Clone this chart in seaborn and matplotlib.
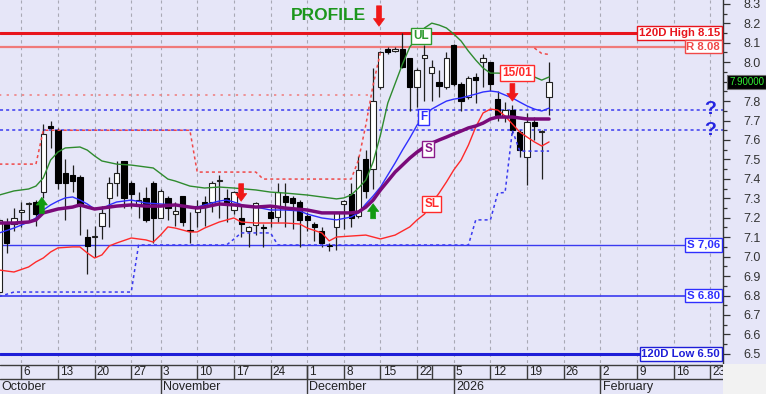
import numpy as np
import pandas as pd
import matplotlib
matplotlib.use("Agg")
import matplotlib.pyplot as plt
import matplotlib.transforms as mtransforms
from matplotlib.patches import Rectangle
from matplotlib.ticker import MultipleLocator, FuncFormatter
import seaborn as sns

BG = "#E6E6F8"
sns.set_style("white", {"axes.facecolor": BG, "figure.facecolor": BG})
plt.rcParams["font.family"] = ["Liberation Sans", "DejaVu Sans"]

# ---------------- trading calendar ----------------
holidays = ["2025-10-31", "2025-12-24", "2025-12-25", "2025-12-26", "2025-12-31", "2026-01-01"]
cal = pd.bdate_range("2025-10-01", "2026-02-27")
cal = cal[~cal.isin(pd.to_datetime(holidays))]


def pos(d):
    return cal.get_loc(pd.Timestamp(d))


# ---------------- candles (daily OHLC from 2025-10-01) ----------------
opens = [6.82, 7.17, 7.17, 7.23, 7.27, 7.28, 7.33, 7.67, 7.65, 7.43,
         7.42, 7.41, 7.10, 7.10, 7.16, 7.30, 7.38, 7.49, 7.38, 7.27,
         7.30, 7.38, 7.20, 7.30, 7.22, 7.31, 7.135, 7.23, 7.28, 7.28,
         7.39, 7.30, 7.24, 7.20, 7.13, 7.165, 7.155, 7.23, 7.205, 7.31,
         7.30, 7.28, 7.21, 7.17, 7.13, 7.06, 7.15, 7.27, 7.32, 7.21,
         7.50, 7.45, 7.87, 8.07, 8.06, 8.07, 8.02, 7.87, 8.02, 7.945,
         7.90, 7.875, 8.09, 7.89, 7.82, 7.925, 8.00, 8.00, 7.81, 7.72,
         7.755, 7.64, 7.51, 7.69, 7.64, 7.82]
highs = [7.20, 7.20, 7.25, 7.28, 7.28, 7.29, 7.68, 7.70, 7.66, 7.50,
         7.47, 7.42, 7.14, 7.16, 7.26, 7.41, 7.49, 7.49, 7.39, 7.33,
         7.36, 7.39, 7.35, 7.31, 7.28, 7.31, 7.23, 7.29, 7.31, 7.39,
         7.42, 7.35, 7.34, 7.26, 7.16, 7.28, 7.17, 7.255, 7.38, 7.38,
         7.31, 7.29, 7.23, 7.18, 7.15, 7.07, 7.23, 7.29, 7.38, 7.52,
         7.55, 7.97, 8.06, 8.08, 8.08, 8.15, 8.02, 7.97, 8.09, 8.01,
         7.96, 8.05, 8.095, 7.90, 7.93, 7.945, 8.04, 8.00, 7.85, 7.795,
         7.78, 7.65, 7.74, 7.72, 7.65, 8.00]
lows = [6.80, 7.02, 7.13, 7.15, 7.18, 7.16, 7.30, 7.56, 7.35, 7.19,
        7.33, 7.11, 6.91, 7.00, 7.09, 7.15, 7.31, 7.25, 7.25, 7.20,
        7.18, 7.07, 7.20, 7.19, 7.16, 7.16, 7.07, 7.15, 7.16, 7.23,
        7.20, 7.18, 7.22, 7.10, 7.05, 7.11, 7.05, 7.15, 7.18, 7.15,
        7.14, 7.05, 7.13, 7.08, 7.05, 7.03, 7.035, 7.14, 7.15, 7.20,
        7.30, 7.35, 7.86, 8.04, 8.05, 7.97, 7.75, 7.77, 7.80, 7.80,
        7.82, 7.86, 7.88, 7.75, 7.81, 7.79, 7.87, 7.85, 7.70, 7.69,
        7.63, 7.51, 7.37, 7.60, 7.40, 7.73]
closes = [7.19, 7.07, 7.20, 7.24, 7.275, 7.22, 7.63, 7.66, 7.38, 7.38,
          7.39, 7.26, 7.055, 7.102, 7.225, 7.38, 7.43, 7.30, 7.32, 7.29,
          7.19, 7.20, 7.34, 7.25, 7.235, 7.18, 7.13, 7.26, 7.255, 7.38,
          7.395, 7.275, 7.33, 7.17, 7.15, 7.275, 7.145, 7.20, 7.33, 7.28,
          7.275, 7.19, 7.19, 7.15, 7.07, 7.055, 7.225, 7.285, 7.20, 7.445,
          7.34, 7.80, 8.05, 8.05, 8.07, 7.975, 7.87, 7.96, 8.035, 7.975,
          7.88, 8.02, 7.89, 7.80, 7.92, 7.91, 8.02, 7.89, 7.73, 7.755,
          7.65, 7.55, 7.69, 7.67, 7.645, 7.90]

# ---------------- indicator lines ----------------
ul_dates = ["2025-10-01", "2025-10-03", "2025-10-07", "2025-10-08", "2025-10-09", "2025-10-10", "2025-10-13",
            "2025-10-14", "2025-10-16", "2025-10-17", "2025-10-20", "2025-10-21", "2025-10-23", "2025-10-27",
            "2025-10-30", "2025-11-04", "2025-11-05", "2025-11-07", "2025-11-11", "2025-11-13", "2025-11-17",
            "2025-11-20", "2025-11-24", "2025-11-26", "2025-12-01", "2025-12-03", "2025-12-05", "2025-12-08",
            "2025-12-09", "2025-12-10", "2025-12-11", "2025-12-12", "2025-12-15", "2025-12-16", "2025-12-17",
            "2025-12-18", "2025-12-19", "2025-12-22", "2025-12-23", "2025-12-29", "2025-12-30", "2026-01-02",
            "2026-01-05", "2026-01-06", "2026-01-07", "2026-01-08", "2026-01-09", "2026-01-12", "2026-01-13",
            "2026-01-15", "2026-01-19", "2026-01-20", "2026-01-21", "2026-01-22"]
ul_vals = [7.317, 7.338, 7.348, 7.363, 7.405, 7.497, 7.538, 7.559, 7.564, 7.548, 7.518, 7.492, 7.476, 7.471,
           7.456, 7.399, 7.389, 7.363, 7.353, 7.358, 7.353, 7.343, 7.332, 7.327, 7.317, 7.307, 7.297, 7.302,
           7.317, 7.353, 7.394, 7.487, 7.626, 7.790, 7.890, 7.990, 8.078, 8.129, 8.176, 8.201, 8.191, 8.176,
           8.145, 8.109, 8.057, 8.011, 7.970, 7.944, 7.944, 7.939, 7.934, 7.924, 7.908, 7.924]

f_dates = ["2025-10-01", "2025-10-03", "2025-10-07", "2025-10-08", "2025-10-09", "2025-10-10", "2025-10-13",
           "2025-10-14", "2025-10-15", "2025-10-16", "2025-10-17", "2025-10-20", "2025-10-21", "2025-10-22",
           "2025-10-23", "2025-10-27", "2025-10-29", "2025-11-03", "2025-11-05", "2025-11-07", "2025-11-10",
           "2025-11-11", "2025-11-13", "2025-11-14", "2025-11-17", "2025-11-19", "2025-11-20", "2025-11-24",
           "2025-11-26", "2025-11-28", "2025-12-01", "2025-12-03", "2025-12-05", "2025-12-09", "2025-12-10",
           "2025-12-11", "2025-12-12", "2025-12-15", "2025-12-16", "2025-12-17", "2025-12-18", "2025-12-19",
           "2025-12-22", "2025-12-23", "2025-12-29", "2025-12-30", "2026-01-02", "2026-01-05", "2026-01-06",
           "2026-01-07", "2026-01-08", "2026-01-09", "2026-01-12", "2026-01-13", "2026-01-14", "2026-01-15",
           "2026-01-16", "2026-01-19", "2026-01-20", "2026-01-21", "2026-01-22"]
f_vals = [7.122, 7.147, 7.178, 7.199, 7.240, 7.266, 7.286, 7.302, 7.307, 7.291, 7.271, 7.245, 7.245, 7.266,
          7.281, 7.291, 7.276, 7.271, 7.266, 7.255, 7.255, 7.266, 7.286, 7.291, 7.281, 7.255, 7.255, 7.240,
          7.240, 7.235, 7.219, 7.199, 7.189, 7.204, 7.225, 7.271, 7.312, 7.358, 7.420, 7.482, 7.548, 7.610,
          7.677, 7.723, 7.759, 7.780, 7.800, 7.810, 7.816, 7.826, 7.836, 7.847, 7.852, 7.847, 7.831, 7.816,
          7.795, 7.775, 7.759, 7.749, 7.764]

s_dates = ["2025-10-01", "2025-10-03", "2025-10-07", "2025-10-08", "2025-10-09", "2025-10-10", "2025-10-13",
           "2025-10-15", "2025-10-16", "2025-10-17", "2025-10-20", "2025-10-21", "2025-10-22", "2025-10-23",
           "2025-10-27", "2025-10-29", "2025-11-03", "2025-11-05", "2025-11-07", "2025-11-10", "2025-11-11",
           "2025-11-13", "2025-11-17", "2025-11-20", "2025-11-24", "2025-11-26", "2025-12-01", "2025-12-03",
           "2025-12-05", "2025-12-09", "2025-12-10", "2025-12-11", "2025-12-12", "2025-12-15", "2025-12-16",
           "2025-12-17", "2025-12-18", "2025-12-19", "2025-12-22", "2025-12-23", "2025-12-29", "2025-12-30",
           "2026-01-02", "2026-01-05", "2026-01-06", "2026-01-07", "2026-01-08", "2026-01-09", "2026-01-12",
           "2026-01-13", "2026-01-15", "2026-01-19", "2026-01-22"]
s_vals = [7.173, 7.173, 7.178, 7.189, 7.225, 7.235, 7.245, 7.255, 7.266, 7.255, 7.245, 7.250, 7.255, 7.260,
          7.266, 7.260, 7.260, 7.266, 7.255, 7.250, 7.255, 7.271, 7.266, 7.255, 7.260, 7.250, 7.240, 7.225,
          7.225, 7.225, 7.230, 7.255, 7.291, 7.343, 7.389, 7.435, 7.471, 7.507, 7.538, 7.564, 7.584, 7.600,
          7.615, 7.631, 7.646, 7.662, 7.672, 7.687, 7.708, 7.718, 7.718, 7.708, 7.708]

sl_dates = ["2025-10-01", "2025-10-03", "2025-10-07", "2025-10-08", "2025-10-09", "2025-10-10", "2025-10-13",
            "2025-10-15", "2025-10-16", "2025-10-17", "2025-10-20", "2025-10-21", "2025-10-22", "2025-10-23",
            "2025-10-27", "2025-10-29", "2025-10-30", "2025-11-03", "2025-11-04", "2025-11-05", "2025-11-07",
            "2025-11-10", "2025-11-11", "2025-11-13", "2025-11-17", "2025-11-18", "2025-11-20", "2025-11-24",
            "2025-11-26", "2025-11-28", "2025-12-01", "2025-12-03", "2025-12-04", "2025-12-05", "2025-12-09",
            "2025-12-11", "2025-12-15", "2025-12-17", "2025-12-19", "2025-12-22", "2025-12-23", "2025-12-29",
            "2025-12-30", "2026-01-02", "2026-01-05", "2026-01-06", "2026-01-07", "2026-01-08", "2026-01-09",
            "2026-01-12", "2026-01-13", "2026-01-14", "2026-01-15", "2026-01-16", "2026-01-19", "2026-01-20",
            "2026-01-21", "2026-01-22"]
sl_vals = [6.931, 6.921, 6.947, 6.973, 6.993, 7.024, 7.045, 7.050, 7.050, 7.019, 6.993, 7.009, 7.055, 7.070,
           7.096, 7.086, 7.075, 7.111, 7.153, 7.147, 7.127, 7.127, 7.147, 7.178, 7.199, 7.178, 7.173, 7.173,
           7.173, 7.168, 7.147, 7.122, 7.081, 7.101, 7.106, 7.111, 7.091, 7.111, 7.153, 7.189, 7.219, 7.276,
           7.327, 7.384, 7.446, 7.497, 7.574, 7.667, 7.739, 7.759, 7.754, 7.723, 7.682, 7.641, 7.615, 7.590,
           7.569, 7.590]

# trailing resistance (red dotted) and trailing support (blue dotted)
rd_dates = ["2025-10-01", "2025-10-08", "2025-10-09", "2025-11-07", "2025-11-10", "2025-11-20", "2025-11-21",
            "2025-12-09", "2025-12-10", "2025-12-11", "2025-12-12", "2025-12-15"]
rd_vals = [7.476, 7.476, 7.650, 7.650, 7.435, 7.435, 7.399, 7.399, 7.497, 7.677, 7.883, 8.052]
rd2_dates = ["2026-01-20", "2026-01-21", "2026-01-22"]
rd2_vals = [8.073, 8.045, 8.040]
r783_dates = ["2025-10-01", "2025-12-12"]
r783_vals = [7.83, 7.83]
bd_dates = ["2025-10-01", "2025-10-03", "2025-10-27", "2025-10-28", "2025-11-14", "2025-11-17", "2025-11-18",
            "2025-11-24", "2025-11-25", "2026-01-07", "2026-01-08", "2026-01-12", "2026-01-13", "2026-01-14",
            "2026-01-15", "2026-01-16", "2026-01-22"]
bd_vals = [6.795, 6.818, 6.818, 7.060, 7.060, 7.090, 7.122, 7.122, 7.060, 7.060, 7.189, 7.189, 7.327, 7.330,
           7.650, 7.543, 7.543]

# horizontal levels
level_vals = [8.15, 8.08, 7.755, 7.65, 7.06, 6.80, 6.50]
level_labels = ["120D High 8.15", "R 8.08", "?", "?", "S 7,06", "S 6.80", "120D Low 6.50"]

# axis calendar labels
tick_dates = ["2025-10-06", "2025-10-13", "2025-10-20", "2025-10-27", "2025-11-03", "2025-11-10", "2025-11-17",
              "2025-11-24", "2025-12-01", "2025-12-08", "2025-12-15", "2025-12-22", "2026-01-05", "2026-01-12",
              "2026-01-19", "2026-01-26", "2026-02-02", "2026-02-09", "2026-02-16", "2026-02-23"]
unlabeled_tick_dates = ["2025-12-29"]
month_dates = ["2025-11-03", "2025-12-01", "2026-01-05", "2026-02-02"]
month_names = ["November", "December", "2026", "February"]
first_month = "October"
last_price = 7.90

# ---------------- figure ----------------
W, H = 766, 394
fig = plt.figure(figsize=(W / 100, H / 100), dpi=100)
fig.patch.set_facecolor(BG)
ax = fig.add_axes([0, 31 / H, 723 / W, 363 / H])
strip = fig.add_axes([0, 0, 723 / W, 31 / H], sharex=ax)
fig.patches.append(Rectangle((723 / W, 0), 43 / W, 30 / H, transform=fig.transFigure,
                             fc="#F2F2F2", ec="none", zorder=0))

ax.set_facecolor(BG)
ax.set_xlim(0.095, 98.73)
ax.set_ylim(6.453, 8.32)

# weekly grid
for d in tick_dates:
    ax.axvline(pos(d), color="#A9A9B5", lw=0.8, ls=(0, (3, 3)), zorder=1)

# horizontal levels
lv_style = {
    8.15: dict(color="#E8141C", lw=2.2, ls="-"),
    8.08: dict(color="#F07A7A", lw=1.6, ls="-"),
    7.755: dict(color="#3A3AF0", lw=1.1, ls=(0, (2, 2))),
    7.65: dict(color="#3A3AF0", lw=1.1, ls=(0, (2, 2))),
    7.06: dict(color="#3A3AF0", lw=1.0, ls="-"),
    6.80: dict(color="#3A3AF0", lw=1.2, ls="-"),
    6.50: dict(color="#1E1ED8", lw=2.2, ls="-"),
}
for v in level_vals:
    ax.axhline(v, zorder=2, **lv_style[v])

# candles
cdates = cal[:len(opens)]
x = np.array([pos(d) for d in cdates])
O, Hh, L, C = map(np.array, (opens, highs, lows, closes))
up = C >= O
ax.vlines(x, L, Hh, color="#202020", lw=0.9, zorder=3)
hgt = np.maximum(np.abs(C - O), 0.004)
bot = np.minimum(O, C)
ax.bar(x[up], hgt[up], bottom=bot[up], width=0.72, color="white", edgecolor="#202020", lw=0.8, zorder=4)
ax.bar(x[~up], hgt[~up], bottom=bot[~up], width=0.72, color="black", edgecolor="black", lw=0.8, zorder=4)


def line(dates, vals, **kw):
    xs = [pos(d) for d in dates]
    sns.lineplot(x=xs, y=vals, ax=ax, estimator=None, sort=False, legend=False, **kw)


line(r783_dates, r783_vals, color="#F07A7A", lw=1.1, linestyle=(0, (1.5, 3.5)), zorder=2)
line(rd_dates, rd_vals, color="#F04848", lw=1.1, linestyle=(0, (2, 2)), zorder=5)
line(rd2_dates, rd2_vals, color="#F04848", lw=1.1, linestyle=(0, (2, 2)), zorder=5)
line(bd_dates, bd_vals, color="#3A3AF0", lw=1.1, linestyle=(0, (2, 2)), zorder=5)
line(sl_dates, sl_vals, color="#FF2A2A", lw=1.0, zorder=6)
line(ul_dates, ul_vals, color="#2E8B2E", lw=1.0, zorder=6)
line(f_dates, f_vals, color="#2F2FFF", lw=1.0, zorder=6)
line(s_dates, s_vals, color="#7A0A7A", lw=2.5, zorder=7)


# tags on lines
def tag(xp, yp, s, color):
    ax.text(xp, yp, s, color=color, fontsize=8.5, fontweight="bold", ha="center", va="center", zorder=12,
            bbox=dict(boxstyle="square,pad=0.18", fc="white", ec=color, lw=1.0))


tag(pos("2025-12-22") + 0.5, 8.135, "UL", "#2E9B2E")
tag(pos("2025-12-23") - 0.1, 7.72, "F", "#2F2FFF")
tag(pos("2025-12-23") + 0.5, 7.553, "S", "#8A1A8A")
tag(pos("2025-12-29"), 7.27, "SL", "#FF2A2A")
tag(pos("2026-01-15") + 0.6, 7.944, "15/01", "#FF2A2A")


# arrows
def arrow(xp, y0, y1, color):
    ax.annotate("", xy=(xp, y1), xytext=(xp, y0), zorder=13,
                arrowprops=dict(arrowstyle="simple,head_width=0.8,head_length=0.55,tail_width=0.35",
                                fc=color, ec=color, lw=0.5, shrinkA=0, shrinkB=0, mutation_scale=10))


arrow(pos("2025-10-09") - 0.2, 7.222, 7.305, "#129A12")
arrow(pos("2025-12-12"), 7.195, 7.272, "#129A12")
arrow(pos("2025-11-18"), 7.375, 7.285, "#F01818")
arrow(pos("2026-01-15"), 7.89, 7.80, "#F01818")
arrow(pos("2025-12-15") - 0.2, 8.29, 8.185, "#F01818")
ax.text(pos("2025-12-15") - 2.0, 8.238, "PROFILE", color="#1C961C", fontsize=12.5, fontweight="bold",
        ha="right", va="center", zorder=12)

# right-side level labels
trans = mtransforms.blended_transform_factory(ax.transAxes, ax.transData)
lab_col = {"120D High 8.15": "#E8141C", "R 8.08": "#F04848", "S 7,06": "#2F2FFF",
           "S 6.80": "#2F2FFF", "120D Low 6.50": "#1E1ED8"}
for v, s in zip(level_vals, level_labels):
    if s == "?":
        ax.text(0.982, v, s, transform=trans, fontsize=14, fontweight="bold", color="#2424E0",
                ha="center", va="center", zorder=12)
    else:
        c = lab_col[s]
        ax.text(0.996, v, s, transform=trans, fontsize=8.2, fontweight="bold", color=c, ha="right",
                va="center", zorder=12,
                bbox=dict(boxstyle="square,pad=0.16", fc="white", ec=c, lw=1.0))

# price tag (covers the 7.9 tick label as in the reference)
ax.text(1.0 + 6 / 723, last_price, f"{last_price:.5f}", transform=trans, fontsize=7, color="#33EE33",
        ha="left", va="center", zorder=20, clip_on=False,
        bbox=dict(boxstyle="square,pad=0.22", fc="black", ec="#707070", lw=0.8))

# y axis on right
for sp in ["left", "top", "bottom"]:
    ax.spines[sp].set_visible(False)
ax.spines["right"].set_color("#333333")
ax.spines["right"].set_linewidth(1.0)
ax.yaxis.tick_right()
ax.set_yticks(np.round(np.arange(6.5, 8.31, 0.1), 2))
ax.yaxis.set_major_formatter(FuncFormatter(lambda v, p: "" if abs(v - last_price) < 0.04 else f"{v:.1f}"))
ax.yaxis.set_minor_locator(MultipleLocator(0.05))
ax.tick_params(axis="y", which="major", length=5, width=0.9, color="#333333", pad=10, labelsize=9,
               labelcolor="#333333")
ax.tick_params(axis="y", which="minor", length=3, width=0.9, color="#333333")
ax.set_xticks([])
ax.set_xlabel("")
ax.set_ylabel("")

# date strip
strip.set_ylim(0, 1)
strip.axis("off")
dk = "#3C3C3C"
strip.axhline(0.935, color=dk, lw=1.0)
strip.axhline(0.484, color=dk, lw=1.0)
for d in tick_dates + unlabeled_tick_dates:
    strip.vlines(pos(d), 0.484, 0.935, color=dk, lw=1.0)
for d in tick_dates:
    strip.text(pos(d) + 0.3, 0.70, str(pd.Timestamp(d).day), fontsize=8.5, color="#222222",
               ha="left", va="center", clip_on=True)
for d, nm in zip(month_dates, month_names):
    strip.vlines(pos(d), 0.0, 0.935, color=dk, lw=1.0)
    strip.text(pos(d) + 0.3, 0.24, nm, fontsize=9, color="#222222", ha="left", va="center", clip_on=True)
strip.text(0.35, 0.24, first_month, fontsize=9, color="#222222", ha="left", va="center", clip_on=True)

fig.savefig("out.png", dpi=100, facecolor=BG)
